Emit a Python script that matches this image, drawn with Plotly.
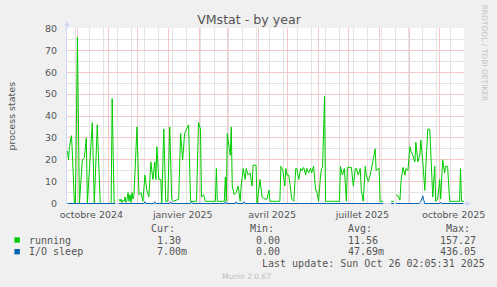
import plotly.graph_objects as go

# ---------------- data ----------------
running_dates = [
    "2024-09-21", "2024-09-22", "2024-09-23", "2024-09-25", "2024-09-26", "2024-09-28", "2024-09-29",
    "2024-10-01", "2024-10-03", "2024-10-06", "2024-10-08", "2024-10-10", "2024-10-11", "2024-10-14",
    "2024-10-16", "2024-10-18", "2024-10-21", "2024-10-24", "2024-11-04", "2024-11-05", "2024-11-07",
    "2024-11-08", "2024-11-09", "2024-11-12", "2024-11-13", "2024-11-14", "2024-11-15", "2024-11-16",
    "2024-11-17", "2024-11-18", "2024-11-19", "2024-11-20", "2024-11-21", "2024-11-22", "2024-11-23",
    "2024-11-24", "2024-11-25", "2024-11-26", "2024-11-27", "2024-11-30", "2024-12-02", "2024-12-04",
    "2024-12-06", "2024-12-08", "2024-12-10", "2024-12-12", "2024-12-14", "2024-12-16", "2024-12-18",
    "2024-12-19", "2024-12-20", "2024-12-22", "2024-12-24", "2024-12-25", "2024-12-27", "2024-12-29",
    "2024-12-31", "2025-01-02", "2025-01-04", "2025-01-06", "2025-01-11", "2025-01-13", "2025-01-15",
    "2025-01-17", "2025-01-19", "2025-01-21", "2025-01-23", "2025-01-29", "2025-01-31", "2025-02-02",
    "2025-02-03", "2025-02-05", "2025-02-07", "2025-02-17", "2025-02-18", "2025-02-19", "2025-02-26",
    "2025-02-27", "2025-02-28", "2025-03-01", "2025-03-03", "2025-03-04", "2025-03-05", "2025-03-06",
    "2025-03-08", "2025-03-10", "2025-03-12", "2025-03-14", "2025-03-15", "2025-03-17", "2025-03-19",
    "2025-03-20", "2025-03-22", "2025-03-24", "2025-03-26", "2025-03-27", "2025-03-30", "2025-03-31",
    "2025-04-03", "2025-04-05", "2025-04-08", "2025-04-10", "2025-04-12", "2025-04-13", "2025-04-23",
    "2025-04-24", "2025-04-26", "2025-04-28", "2025-04-29", "2025-04-30", "2025-05-02", "2025-05-04",
    "2025-05-05", "2025-05-07", "2025-05-09", "2025-05-10", "2025-05-12", "2025-05-14", "2025-05-15",
    "2025-05-17", "2025-05-19", "2025-05-20", "2025-05-22", "2025-05-24", "2025-05-25", "2025-05-27",
    "2025-05-29", "2025-05-30", "2025-06-01", "2025-06-03", "2025-06-04", "2025-06-05", "2025-06-07",
    "2025-06-08", "2025-06-22", "2025-06-23", "2025-06-25", "2025-06-27", "2025-06-29", "2025-06-30",
    "2025-07-04", "2025-07-06", "2025-07-08", "2025-07-09", "2025-07-11", "2025-07-13", "2025-07-14",
    "2025-07-16", "2025-07-18", "2025-07-19", "2025-07-21", "2025-07-23", "2025-07-24", "2025-07-26",
    "2025-07-28", "2025-07-29", "2025-07-31", "2025-08-01", "2025-08-02", "2025-08-05", "2025-08-06",
    "2025-08-13", "2025-08-16", "2025-08-17", "2025-08-18", "2025-08-20", "2025-08-22", "2025-08-23",
    "2025-08-25", "2025-08-27", "2025-08-28", "2025-08-30", "2025-09-01", "2025-09-02", "2025-09-04",
    "2025-09-06", "2025-09-07", "2025-09-09", "2025-09-11", "2025-09-12", "2025-09-14", "2025-09-16",
    "2025-09-17", "2025-09-19", "2025-09-21", "2025-09-22", "2025-09-24", "2025-09-26", "2025-09-27",
    "2025-09-29", "2025-10-01", "2025-10-02", "2025-10-04", "2025-10-06", "2025-10-07", "2025-10-09",
    "2025-10-11", "2025-10-21", "2025-10-22", "2025-10-23", "2025-10-26",
]
running_values = [
    24, 20, 26, 31, 22, 0, 0,
    76, 0, 20, 21, 30, 0, 20,
    37, 0, 36, 0, 0, 48, 0,
    0, None, 2, 1, 2, 0.5, 1.5,
    1, 3, 0.5, 2, 5, 1, 4,
    0.5, 5, 2, 4, 35, 4, 5,
    1, 13, 6, 3, 19, 11, 19,
    11, 26, 11, 11, 0, 34, 1,
    1, 35, 2, 1, 2, 32, 20,
    32, 34, 36, 1, 1, 37, 34,
    3, 4, 1, 1, 16, 1, 1,
    12, 1, 32, 25, 22, 35, 8,
    4, 5, 8, 1, 8, 16, 11,
    16, 13, 14, 8, 17.5, 17.5, 0,
    11, 3, 2, 2, 6, 1, 1,
    17, 15, 8, 16, 13, 13, 6,
    2, 1, 16, 16, 11, 16, 15,
    16.5, 13, 16, 14, 16, 14, 17,
    6, 6, 1, 13, 16, 16.5, 49,
    1, 1, 17, 13, 16, 1, 16.5,
    16.5, 8, 16, 16, 13, 16, 6,
    1, 17, 13, 10, 13, 16, 20,
    25, 15, 16, 16, 1, 1, None,
    1, 1, None, 4, 3.5, 1.5, 10,
    16.5, 13, 16, 15, 26, 24, 22,
    19, 28, 19, 22, 29, 19, 6,
    16, 34, 34, 22, 3, 17, 1,
    2, 11, 2, 20, 14, 17, 17,
    1, 1, 16, 1, 1,
]

io_dates = [
    "2024-09-21", "2024-11-08", "2024-11-09", "2024-11-12", "2024-12-07", "2024-12-08", "2024-12-09",
    "2024-12-17", "2024-12-18", "2024-12-19", "2025-01-02", "2025-01-03", "2025-01-04", "2025-01-23",
    "2025-01-24", "2025-01-25", "2025-02-26", "2025-02-27", "2025-02-28", "2025-03-09", "2025-03-10",
    "2025-03-11", "2025-03-17", "2025-03-18", "2025-03-19", "2025-08-05", "2025-08-06", "2025-08-13",
    "2025-08-16", "2025-08-17", "2025-08-18", "2025-09-10", "2025-09-12", "2025-09-14", "2025-09-15",
    "2025-09-16", "2025-10-01", "2025-10-02", "2025-10-03", "2025-10-26",
]
io_values = [
    0, 0, None, 0, 0, 0.8, 0,
    0, 0.8, 0, 0, 0.8, 0, 0,
    0.8, 0, 0, 0.8, 0, 0, 0.8,
    0, 0, 0.8, 0, 0, None, 0,
    0, None, 0, 0, 1, 3.5, 1.5,
    0, 0, 0.6, 0, 0,
]

month_starts = [
    "2024-10-01", "2024-11-01", "2024-12-01", "2025-01-01", "2025-02-01", "2025-03-01", "2025-04-01",
    "2025-05-01", "2025-06-01", "2025-07-01", "2025-08-01", "2025-09-01", "2025-10-01",
]
month_labels = [
    "octobre 2024", "", "", "janvier 2025", "", "", "avril 2025",
    "", "", "juillet 2025", "", "", "octobre 2025",
]
y_ticks = [0, 10, 20, 30, 40, 50, 60, 70, 80]

series_names = ["running", "I/O sleep"]
series_colors = ["#00cc00", "#0066b3"]
cur_values = ["1.30", "7.00m"]
min_values = ["0.00", "0.00"]
avg_values = ["11.56", "47.69m"]
max_values = ["157.27", "436.05"]

# 400-day window (1 px per day); half-day offset keeps midnight grid lines on pixel centres
x_start = "2024-09-20 12:00:00"
x_end = "2025-10-25 12:00:00"

# ---------------- layout geometry ----------------
W, H = 497, 287
L, T, PW, PH = 67, 28, 400, 176

def px(x):
    return (x - L) / PW

def py(y):
    return (T + PH - y) / PH

FONT = "DejaVu Sans"
MONO = "DejaVu Sans Mono"
TXT = "#555555"
AXIS = "#CFD6F8"
GRID = "#e3e3e3"
MGRID = "#f4c8c8"

fig = go.Figure()
fig.add_trace(go.Scatter(x=running_dates, y=running_values, mode="lines",
                         line=dict(color=series_colors[0], width=1), name=series_names[0],
                         hoverinfo="skip"))
fig.add_trace(go.Scatter(x=io_dates, y=io_values, mode="lines",
                         line=dict(color=series_colors[1], width=1), name=series_names[1],
                         hoverinfo="skip"))

fig.update_layout(
    width=W, height=H,
    margin=dict(l=L, r=W - L - PW, t=T, b=H - T - PH, pad=0),
    paper_bgcolor="#F0F0F0", plot_bgcolor="#FFFFFF",
    showlegend=False,
    title=dict(text="VMstat - by year", x=249 / W, xref="container", xanchor="center",
               y=1 - 19.5 / H, yref="container", yanchor="middle",
               font=dict(family=FONT, size=12.6, color=TXT)),
    font=dict(family=FONT, size=9.5, color=TXT),
)

fig.update_xaxes(
    type="date", range=[x_start, x_end],
    tickmode="array", tickvals=month_starts, ticktext=month_labels,
    ticklabelshift=14, ticks="", ticklabelstandoff=3,
    showgrid=True, gridcolor=MGRID, gridwidth=1,
    minor=dict(tickmode="linear", tick0="2024-09-29", dtick=14 * 86400000,
               showgrid=True, gridcolor=GRID, gridwidth=1),
    showline=False, zeroline=False,
    tickfont=dict(family=FONT, size=9.5, color=TXT),
)
fig.update_yaxes(
    range=[-0.2286, 80.2286], tickmode="array", tickvals=y_ticks,
    ticks="", ticklabelstandoff=7,
    showgrid=True, gridcolor=MGRID, gridwidth=1,
    minor=dict(tickmode="linear", tick0=0, dtick=5, showgrid=True,
               gridcolor=GRID, gridwidth=1),
    zeroline=True, zerolinecolor=AXIS, zerolinewidth=1,
    showline=True, linecolor=AXIS, linewidth=1,
    tickfont=dict(family=FONT, size=9.5, color=TXT),
)

ann = []
# axis arrows
ann.append(dict(x=px(L), y=py(21), xref="paper", yref="paper", text="", showarrow=True,
                ax=0, ay=9, arrowhead=2, arrowsize=1, arrowwidth=1, arrowcolor=AXIS, standoff=0))
ann.append(dict(x=px(474), y=py(203.5), xref="paper", yref="paper", text="", showarrow=True,
                ax=-9, ay=0, arrowhead=2, arrowsize=1, arrowwidth=1, arrowcolor=AXIS, standoff=0))
# y axis title
ann.append(dict(x=px(11), y=py(116), xref="paper", yref="paper", text="process states",
                textangle=-90, showarrow=False, xanchor="center", yanchor="middle",
                font=dict(family=FONT, size=9.5, color=TXT)))
# vertical watermark
ann.append(dict(x=px(488), y=py(53.5), xref="paper", yref="paper", text="RRDTOOL / TOBI OETIKER",
                textangle=90, showarrow=False, xanchor="center", yanchor="middle",
                font=dict(family=FONT, size=7.5, color="#c4c4c4")))
# legend header
for label, xx in zip(["Cur:", "Min:", "Avg:", "Max:"], [150, 249.3, 348.3, 446.7]):
    ann.append(dict(x=px(xx), y=py(228.3), xref="paper", yref="paper", text=label,
                    showarrow=False, xanchor="left", yanchor="middle",
                    font=dict(family=MONO, size=10, color=TXT)))
shapes = []
rows_y = [240, 251.7]
for i in range(2):
    yy = rows_y[i]
    shapes.append(dict(type="rect", xref="paper", yref="paper",
                       x0=px(14), x1=px(19.5), y0=py(yy - 2.7), y1=py(yy + 2.7),
                       fillcolor=series_colors[i], line=dict(width=0)))
    ann.append(dict(x=px(26.7), y=py(yy), xref="paper", yref="paper", text=series_names[i],
                    showarrow=False, xanchor="left", yanchor="middle",
                    font=dict(family=MONO, size=10, color=TXT)))
    for val, xx in zip([cur_values[i], min_values[i], avg_values[i], max_values[i]],
                       [156, 255, 348.3, 441]):
        ann.append(dict(x=px(xx), y=py(yy), xref="paper", yref="paper", text=val,
                        showarrow=False, xanchor="left", yanchor="middle",
                        font=dict(family=MONO, size=10, color=TXT)))
ann.append(dict(x=px(261.7), y=py(263.7), xref="paper", yref="paper",
                text="Last update: Sun Oct 26 02:05:31 2025",
                showarrow=False, xanchor="left", yanchor="middle",
                font=dict(family=MONO, size=10, color=TXT)))
ann.append(dict(x=px(248), y=py(276.7), xref="paper", yref="paper", text="Munin 2.0.67",
                showarrow=False, xanchor="center", yanchor="middle",
                font=dict(family=FONT, size=7.5, color="#bdbdbd")))

fig.update_layout(annotations=ann, shapes=shapes)
fig.write_html("out.html")
